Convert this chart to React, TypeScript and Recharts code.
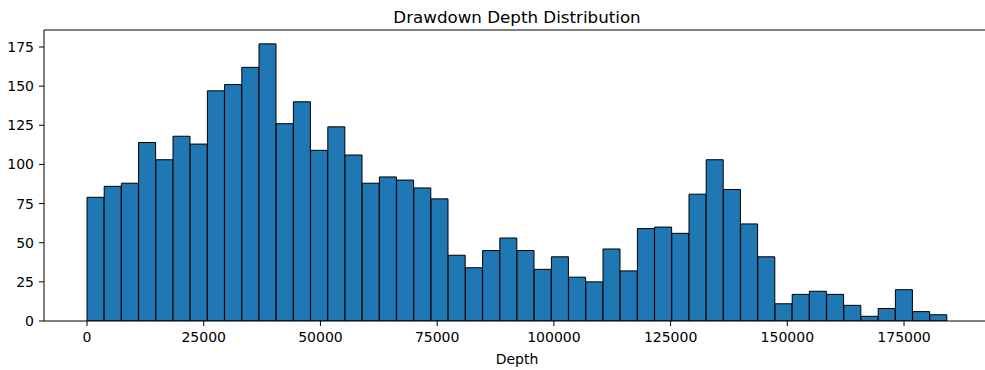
import { ComposedChart, Bar, XAxis, YAxis, ReferenceLine, Label } from 'recharts'

// histogram of drawdown depth, 50 equal bins starting at 0
const binWidth = 3684
const counts = [
  79, 86, 88, 114, 103, 118, 113, 147, 151, 162,
  177, 126, 140, 109, 124, 106, 88, 92, 90, 85,
  78, 42, 34, 45, 53, 45, 33, 41, 28, 25,
  46, 32, 59, 60, 56, 81, 103, 84, 62, 41,
  11, 17, 19, 17, 10, 3, 8, 20, 6, 4,
]
const xTicks = [0, 25000, 50000, 75000, 100000, 125000, 150000, 175000]
const yTicks = [0, 25, 50, 75, 100, 125, 150, 175]

const data = counts.map((c, i) => ({ mid: i * binWidth + binWidth / 2, count: c }))

const span = counts.length * binWidth
const xDomain = [-0.05 * span, 1.05 * span]
const yMax = Math.max(...counts) * 1.05

const FONT = '"DejaVu Sans", sans-serif'
const tickStyle = { fontSize: 14, fill: '#000', fontFamily: FONT }

export default function App() {
  return (
    <div style={{ position: 'fixed', top: 0, left: 0, width: 985, height: 370, overflow: 'hidden', background: '#fff' }}>
      <div
        style={{
          position: 'absolute', left: 0, width: 1034, top: 9, textAlign: 'center',
          fontFamily: FONT, fontSize: 16.7, lineHeight: 1, color: '#000',
        }}
      >
        Drawdown Depth Distribution
      </div>
      <ComposedChart
        width={995}
        height={370}
        data={data}
        margin={{ top: 30, right: 5, bottom: 0, left: 0 }}
        barCategoryGap={0}
        barGap={0}
      >
        <XAxis
          dataKey="mid"
          type="number"
          domain={xDomain}
          ticks={xTicks}
          allowDataOverflow
          height={49}
          tickSize={5}
          tickMargin={6}
          tick={tickStyle}
          stroke="#000"
          interval={0}
        >
          <Label value="Depth" position="insideBottom" offset={6} style={{ fontSize: 14, fill: '#000', fontFamily: FONT }} />
        </XAxis>
        <YAxis
          type="number"
          domain={[0, yMax]}
          ticks={yTicks}
          allowDataOverflow
          width={44}
          tickSize={5}
          tickMargin={5}
          tick={tickStyle}
          stroke="#000"
          interval={0}
        />
        <ReferenceLine y={yMax} stroke="#000" />
        <ReferenceLine x={xDomain[1]} stroke="#000" />
        <Bar dataKey="count" fill="#1f77b4" stroke="#000" strokeWidth={1} isAnimationActive={false} />
      </ComposedChart>
    </div>
  )
}
